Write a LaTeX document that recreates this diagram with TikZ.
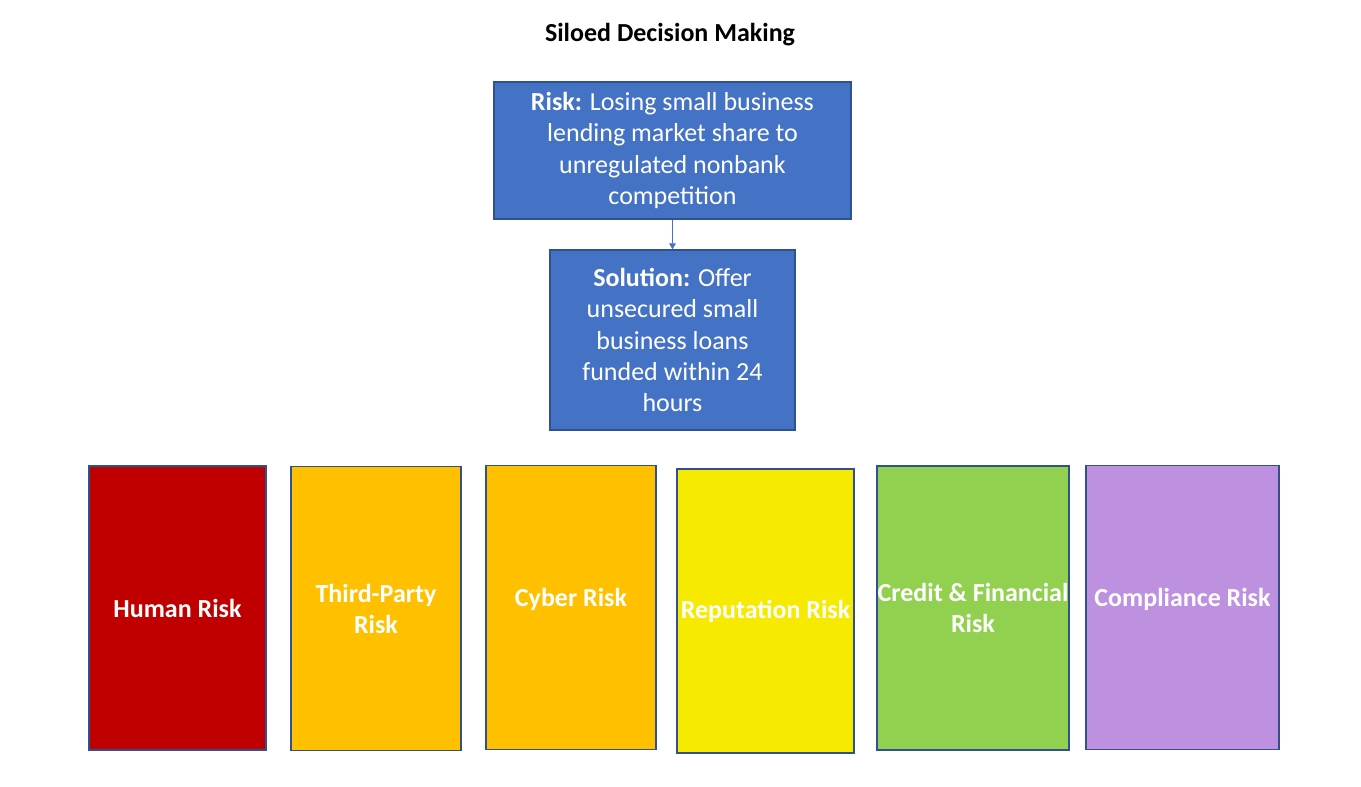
\documentclass[tikz,border=0pt]{standalone}
\usepackage{fontspec}
\setmainfont{Carlito}
\usepackage{tikz}
\usetikzlibrary{arrows.meta, positioning}

\definecolor{boxblue}{HTML}{4472C4}
\definecolor{edgeblue}{HTML}{2F528F}
\definecolor{humanred}{HTML}{C00000}
\definecolor{amber}{HTML}{FFC000}
\definecolor{repyellow}{HTML}{F5EA00}
\definecolor{creditgreen}{HTML}{92D050}
\definecolor{complilac}{HTML}{BD91DF}

\begin{document}
\begin{tikzpicture}[
    x=0.75pt, y=-0.75pt,
    font=\fontsize{19.5}{23.3}\selectfont,
    bluebox/.style={
        rectangle, draw=edgeblue, line width=1.1pt, fill=boxblue,
        text=white, align=center, inner sep=0pt
    },
    riskbox/.style={
        rectangle, draw=edgeblue, line width=1.1pt,
        text=white, align=center, inner sep=0pt,
        minimum height=213pt, font=\fontsize{19.5}{23.3}\selectfont\bfseries
    },
    arrow/.style={
        -{Triangle[width=5pt, length=4.5pt]}, line width=0.6pt, draw=boxblue
    }
]
    \useasboundingbox (0,0) rectangle (1361,786);

    % --- NODES ---
    \node [font=\fontsize{19.5}{23.3}\selectfont\bfseries] (title) at (670,35) {Siloed Decision Making};

    \node [bluebox, minimum width=267.75pt, minimum height=102.75pt] (risk) at (672.5,150.5)
        {\textbf{Risk:} Losing small business\\lending market share to\\unregulated nonbank\\competition};
    \node [bluebox, minimum width=183.75pt, minimum height=135pt] (solution) at (672.5,340)
        {\textbf{Solution:} Offer\\unsecured small\\business loans\\funded within 24\\hours};

    \node [riskbox, fill=humanred, minimum width=132.75pt] (human) at (177.5,608) {Human Risk};
    \node [riskbox, fill=amber, minimum width=127.5pt] (thirdparty) at (376,608.5) {Third-Party\\Risk};
    \node [riskbox, fill=amber, minimum width=127.5pt, text depth=15pt] (cyber) at (571,607.5) {Cyber Risk};
    \node [riskbox, fill=repyellow, minimum width=132.75pt] (reputation) at (765.5,611) {Reputation Risk};
    \node [riskbox, fill=creditgreen, minimum width=144pt] (credit) at (973,608) {Credit \& Financial\\Risk};
    \node [riskbox, fill=complilac, minimum width=144.75pt, text depth=15pt] (compliance) at (1182.5,607.5) {Compliance Risk};

    % --- CONNECTING ARROWS ---
    \draw [arrow] (risk) -- (solution);

\end{tikzpicture}
\end{document}
